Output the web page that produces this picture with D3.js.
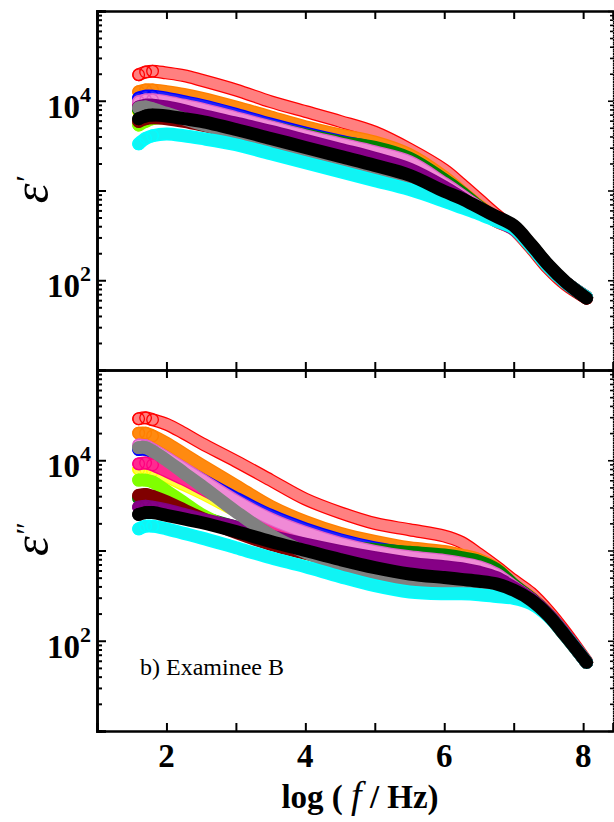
<!DOCTYPE html>
<html>
<head>
<meta charset="utf-8">
<script src="https://cdn.jsdelivr.net/npm/d3@7"></script>
<style>
  body { margin: 0; background: #fff; }
  svg { display: block; }
</style>
</head>
<body>
<div id="chart"></div>
<script>
// log10(f / Hz) where values were read
const logF = [1.6, 1.7, 1.8, 2.0, 2.25, 2.5, 3.0, 3.5, 4.0, 4.5, 5.0, 5.5, 6.0, 6.25, 6.5, 6.75, 7.0, 7.25, 7.5, 7.75, 8.05];

// upper panel: log10(eps')
const realRed        = [4.29, 4.32, 4.33, 4.31, 4.28, 4.23, 4.12, 3.99, 3.88, 3.77, 3.65, 3.46, 3.23, 3.07, 2.90, 2.73, 2.57, 2.36, 2.13, 1.95, 1.80];
const realOrange     = [4.10, 4.12, 4.12, 4.10, 4.07, 4.03, 3.93, 3.82, 3.71, 3.62, 3.54, 3.40, 3.15, 2.99, 2.83, 2.69, 2.58, 2.38, 2.15, 1.97, 1.81];
const realYellow     = [3.88, 3.90, 3.90, 3.88, 3.84, 3.80, 3.71, 3.62, 3.53, 3.44, 3.35, 3.22, 3.02, 2.90, 2.78, 2.66, 2.57, 2.38, 2.15, 1.97, 1.81];
const realBlue       = [4.03, 4.05, 4.05, 4.03, 3.99, 3.95, 3.85, 3.74, 3.64, 3.55, 3.47, 3.35, 3.11, 2.97, 2.81, 2.67, 2.57, 2.38, 2.15, 1.97, 1.81];
const realGreen      = [3.90, 3.93, 3.95, 3.95, 3.92, 3.89, 3.80, 3.71, 3.62, 3.54, 3.48, 3.36, 3.12, 2.98, 2.82, 2.68, 2.58, 2.39, 2.16, 1.97, 1.81];
const realChartreuse = [3.73, 3.77, 3.80, 3.81, 3.78, 3.74, 3.66, 3.57, 3.49, 3.40, 3.31, 3.20, 2.99, 2.88, 2.77, 2.66, 2.57, 2.38, 2.15, 1.97, 1.81];
const realDeeppink   = [3.96, 3.98, 3.98, 3.96, 3.92, 3.88, 3.79, 3.69, 3.59, 3.50, 3.41, 3.30, 3.06, 2.93, 2.79, 2.66, 2.57, 2.38, 2.15, 1.97, 1.81];
const realViolet     = [3.99, 4.01, 4.01, 3.99, 3.95, 3.91, 3.81, 3.71, 3.61, 3.52, 3.43, 3.32, 3.08, 2.95, 2.81, 2.67, 2.57, 2.38, 2.15, 1.97, 1.81];
const realMaroon     = [3.77, 3.80, 3.81, 3.80, 3.77, 3.73, 3.64, 3.55, 3.45, 3.35, 3.25, 3.14, 2.95, 2.88, 2.80, 2.70, 2.60, 2.39, 2.16, 1.97, 1.80];
const realPurple     = [3.93, 3.95, 3.95, 3.93, 3.89, 3.84, 3.75, 3.66, 3.56, 3.46, 3.36, 3.24, 3.04, 2.92, 2.79, 2.67, 2.57, 2.38, 2.15, 1.97, 1.81];
const realGray       = [3.92, 3.93, 3.91, 3.86, 3.80, 3.74, 3.63, 3.51, 3.39, 3.29, 3.19, 3.09, 2.91, 2.83, 2.75, 2.67, 2.58, 2.37, 2.15, 1.97, 1.81];
const realCyan       = [3.52, 3.58, 3.61, 3.63, 3.61, 3.58, 3.51, 3.41, 3.31, 3.21, 3.11, 3.01, 2.88, 2.81, 2.74, 2.66, 2.58, 2.38, 2.15, 1.97, 1.81];
const realBlack      = [3.80, 3.83, 3.84, 3.83, 3.80, 3.77, 3.68, 3.58, 3.48, 3.38, 3.28, 3.17, 2.99, 2.91, 2.81, 2.71, 2.61, 2.40, 2.17, 1.98, 1.80];

// lower panel: log10(eps'')
const lossRed        = [4.46, 4.47, 4.45, 4.40, 4.30, 4.19, 3.99, 3.78, 3.57, 3.42, 3.30, 3.23, 3.16, 3.09, 2.96, 2.82, 2.67, 2.53, 2.33, 2.09, 1.77];
const lossOrange     = [4.30, 4.30, 4.27, 4.19, 4.07, 3.95, 3.72, 3.49, 3.32, 3.19, 3.10, 3.03, 2.99, 2.95, 2.90, 2.80, 2.62, 2.48, 2.30, 2.06, 1.76];
const lossYellow     = [3.90, 3.90, 3.88, 3.82, 3.73, 3.64, 3.44, 3.25, 3.10, 2.99, 2.91, 2.85, 2.81, 2.79, 2.76, 2.70, 2.58, 2.46, 2.29, 2.06, 1.76];
const lossBlue       = [4.12, 4.12, 4.09, 4.01, 3.90, 3.79, 3.58, 3.39, 3.24, 3.12, 3.03, 2.97, 2.93, 2.90, 2.86, 2.77, 2.61, 2.47, 2.29, 2.06, 1.76];
const lossGreen      = [3.58, 3.58, 3.56, 3.50, 3.43, 3.37, 3.26, 3.17, 3.10, 3.05, 3.01, 2.98, 2.95, 2.92, 2.88, 2.79, 2.62, 2.47, 2.29, 2.06, 1.76];
const lossChartreuse = [3.78, 3.78, 3.76, 3.66, 3.53, 3.40, 3.22, 3.08, 2.97, 2.88, 2.80, 2.75, 2.71, 2.69, 2.66, 2.63, 2.56, 2.45, 2.28, 2.05, 1.76];
const lossDeeppink   = [3.96, 3.97, 3.95, 3.88, 3.79, 3.69, 3.49, 3.29, 3.13, 3.02, 2.94, 2.88, 2.84, 2.81, 2.78, 2.71, 2.59, 2.46, 2.29, 2.06, 1.76];
const lossViolet     = [4.17, 4.16, 4.12, 4.03, 3.91, 3.79, 3.55, 3.35, 3.20, 3.08, 2.99, 2.93, 2.89, 2.86, 2.82, 2.74, 2.60, 2.46, 2.29, 2.06, 1.76];
const lossMaroon     = [3.61, 3.62, 3.60, 3.54, 3.45, 3.36, 3.20, 3.07, 2.97, 2.88, 2.80, 2.74, 2.70, 2.68, 2.65, 2.62, 2.56, 2.45, 2.28, 2.05, 1.76];
const lossPurple     = [3.48, 3.49, 3.48, 3.45, 3.40, 3.35, 3.26, 3.16, 3.07, 2.99, 2.92, 2.86, 2.82, 2.80, 2.76, 2.70, 2.59, 2.46, 2.29, 2.06, 1.76];
const lossGray       = [4.14, 4.14, 4.10, 4.00, 3.86, 3.72, 3.43, 3.17, 2.98, 2.83, 2.71, 2.63, 2.60, 2.59, 2.57, 2.55, 2.53, 2.44, 2.28, 2.05, 1.76];
const lossCyan       = [3.24, 3.27, 3.27, 3.24, 3.19, 3.14, 3.03, 2.92, 2.82, 2.71, 2.61, 2.54, 2.52, 2.52, 2.51, 2.49, 2.47, 2.41, 2.27, 2.05, 1.76];
const lossBlack      = [3.40, 3.42, 3.42, 3.39, 3.35, 3.31, 3.21, 3.10, 3.00, 2.90, 2.81, 2.74, 2.70, 2.68, 2.66, 2.63, 2.56, 2.45, 2.28, 2.05, 1.76];

const xTicks = [1, 2, 3, 4, 5, 6, 7, 8];
const xTickLabels = [2, 4, 6, 8];
const yTickLabels = [2, 4]; // exponents labelled on the log axis

// drawing order, back to front
const realSeries = [realRed, realOrange, realYellow, realBlue, realGreen, realChartreuse, realDeeppink, realViolet, realMaroon, realPurple, realGray, realCyan, realBlack];
const lossSeries = [lossRed, lossOrange, lossYellow, lossBlue, lossGreen, lossChartreuse, lossDeeppink, lossViolet, lossMaroon, lossPurple, lossGray, lossCyan, lossBlack];
const edgeColors = ["#ff0000", "#ff7f00", "#ffff00", "#0000ff", "#008000", "#80ff00", "#ff0080", "#e060c8", "#800000", "#800080", "#808080", "#00ffff", "#000000"];
const bandColors = ["#ff8080", "#ff8a10", "#ffff40", "#2020ff", "#008000", "#80ff00", "#ff2a90", "#f08ad6", "#800000", "#860086", "#808080", "#10f4f4", "#000000"];

const W = 614, H = 822;
const left = 97, right = 613;
const serif = "'Liberation Serif', 'Times New Roman', serif";
const panels = [
  { top: 11, bottom: 370, series: realSeries, prime: "′", labelY: 190 },
  { top: 370, bottom: 731, series: lossSeries, prime: "″", labelY: 540 },
];

const svg = d3.select("#chart").append("svg")
  .attr("width", W).attr("height", H)
  .style("font-family", serif);

const x = d3.scaleLinear().domain([1, 8.43]).range([left, right]);

panels.forEach((p, pi) => {
  const y = d3.scaleLog().domain([10, 1e5]).range([p.bottom, p.top]);

  const clipId = "clip" + pi;
  svg.append("clipPath").attr("id", clipId)
    .append("rect").attr("x", left).attr("y", p.top).attr("width", right - left).attr("height", p.bottom - p.top);

  const g = svg.append("g").attr("clip-path", `url(#${clipId})`);
  const line = d3.line()
    .x((d, i) => x(logF[i]))
    .y(d => y(Math.pow(10, d)))
    .curve(d3.curveCatmullRom.alpha(0.5));

  p.series.forEach((s, k) => {
    const sg = g.append("g");
    sg.append("path").attr("d", line(s))
      .attr("fill", "none").attr("stroke", edgeColors[k])
      .attr("stroke-width", 13).attr("stroke-linecap", "round").attr("stroke-linejoin", "round");
    sg.append("path").attr("d", line(s))
      .attr("fill", "none").attr("stroke", bandColors[k])
      .attr("stroke-width", 10.5).attr("stroke-linecap", "round").attr("stroke-linejoin", "round");
    // open markers where the low-frequency points separate from the band
    sg.selectAll("circle").data(s.slice(0, 3)).join("circle")
      .attr("cx", (d, i) => x(logF[i]))
      .attr("cy", d => y(Math.pow(10, d)))
      .attr("r", 5.8)
      .attr("fill", "none")
      .attr("stroke", edgeColors[k])
      .attr("stroke-width", 1.3);
  });

  // log axis ticks
  const majors = [1e1, 1e2, 1e3, 1e4, 1e5];
  const minors = y.ticks().filter(v => !majors.some(m => Math.abs(v - m) < 1e-9));

  const yl = svg.append("g").attr("transform", `translate(${left},0)`);
  yl.call(d3.axisLeft(y).tickValues(majors).tickSize(-9).tickFormat(""));
  yl.call(g2 => g2.append("g").call(d3.axisLeft(y).tickValues(minors).tickSize(-5).tickFormat("")));

  const yr = svg.append("g").attr("transform", `translate(${right},0)`);
  yr.call(d3.axisRight(y).tickValues(majors).tickSize(-5).tickFormat(""));
  yr.call(g2 => g2.append("g").call(d3.axisRight(y).tickValues(minors).tickSize(-3).tickFormat("")));
  yr.selectAll(".domain").attr("stroke-dasharray", "1.5,2").attr("stroke-width", 1.2);

  yl.selectAll(".domain").attr("stroke-width", 2.6);
  yl.selectAll(".tick line").attr("stroke-width", 2);
  yr.selectAll(".tick line").attr("stroke-width", 1.6);

  // x ticks on top and bottom of each panel
  const xb = svg.append("g").attr("transform", `translate(0,${p.bottom})`)
    .call(d3.axisBottom(x).tickValues(xTicks).tickSize(-8).tickFormat(""));
  const xt = svg.append("g").attr("transform", `translate(0,${p.top})`)
    .call(d3.axisTop(x).tickValues(xTicks).tickSize(-8).tickFormat(""));
  [xb, xt].forEach(a => {
    a.selectAll(".domain").attr("stroke-width", 2.6);
    a.selectAll(".tick line").attr("stroke-width", 2);
  });

  // y tick labels 10^n
  yTickLabels.forEach(e => {
    const t = svg.append("text")
      .attr("x", 91).attr("y", y(Math.pow(10, e)) + 17)
      .attr("text-anchor", "end")
      .attr("font-size", 33).attr("font-weight", "bold");
    t.append("tspan").text("10");
    t.append("tspan").attr("dy", -16).attr("font-size", 22).text(e);
  });

  // axis title
  const lab = svg.append("text")
    .attr("transform", `translate(48,${p.labelY}) rotate(-90)`)
    .attr("text-anchor", "middle")
    .attr("font-size", 50).attr("font-style", "italic");
  lab.append("tspan").text("ε");
  lab.append("tspan").attr("font-size", 30).attr("dy", -12).text(p.prime);
});

// x tick labels
svg.append("g").selectAll("text").data(xTickLabels).join("text")
  .attr("x", d => x(d)).attr("y", 767)
  .attr("text-anchor", "middle")
  .attr("font-size", 33).attr("font-weight", "bold")
  .text(d => d);

// x axis title
const xTitle = svg.append("text")
  .attr("x", 360).attr("y", 808)
  .attr("text-anchor", "middle")
  .attr("font-size", 33).attr("font-weight", "bold");
xTitle.append("tspan").text("log ( ");
xTitle.append("tspan").attr("font-style", "italic").attr("font-weight", "normal").attr("font-size", 38).text("f");
xTitle.append("tspan").text(" / Hz)");

// panel note
svg.append("text")
  .attr("x", 140).attr("y", 675)
  .attr("font-family", serif)
  .attr("font-size", 24)
  .text("b) Examinee B");
</script>
</body>
</html>
